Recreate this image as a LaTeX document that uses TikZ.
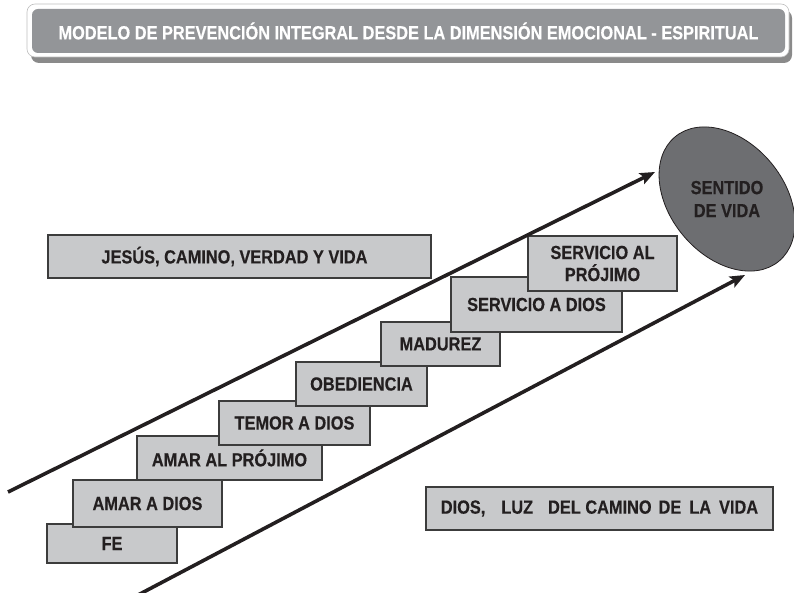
\documentclass[tikz,border=0pt]{standalone}
\usepackage{fontspec}
\setmainfont{Liberation Sans}[FakeStretch=0.86,FakeBold=0.4]
\usetikzlibrary{shapes.geometric,arrows.meta}
\definecolor{boxfill}{HTML}{C8C9CB}
\definecolor{boxline}{HTML}{3C3C3C}
\definecolor{titlefill}{HTML}{939598}
\definecolor{shadowgray}{HTML}{8A8A8A}
\definecolor{ellfill}{HTML}{6D6E71}
\definecolor{ink}{HTML}{231F20}
\tikzset{
  stepbox/.style={draw=boxline, fill=boxfill, line width=1.1pt, inner sep=0pt,
    font=\fontsize{19}{22}\selectfont\bfseries, text=ink, align=center},
  titlebox/.style={fill=titlefill, rounded corners=6pt, inner sep=0pt,
    minimum width=753pt, minimum height=44pt,
    font=\fontsize{19}{22}\selectfont\bfseries, text=white},
  arrowline/.style={line width=3.6pt, draw=ink, -{Stealth[length=15pt,width=12pt,inset=3pt]}},
}
\begin{document}
\begin{tikzpicture}[x=1pt,y=-1pt]
\useasboundingbox (0,0) rectangle (794,593);
% title with border and shadow
\fill[shadowgray, rounded corners=8pt] (31,10) rectangle (792,63);
\draw[fill=white, draw=black!25, line width=0.6pt, rounded corners=8pt] (27,4) rectangle (789,57);
\node[titlebox] (title) at (408.5,31) {MODELO DE PREVENCIÓN INTEGRAL DESDE LA DIMENSIÓN EMOCIONAL - ESPIRITUAL};
% side boxes
\node[stepbox, minimum width=383pt, minimum height=43pt] (jesus) at (239.5,256.5) {JESÚS, CAMINO, VERDAD Y VIDA\hspace{10pt}};
\node[stepbox, minimum width=347pt, minimum height=43pt] (luz) at (599.5,508.5)
  {DIOS,\hspace{16pt}LUZ\hspace{15pt}DEL CAMINO\hspace{7pt}DE\hspace{8pt}LA\hspace{8pt}VIDA};
% steps
\node[stepbox, minimum width=130pt, minimum height=39pt] (fe) at (112,543.5) {FE};
\node[stepbox, minimum width=149pt, minimum height=47pt] (ad) at (147.5,503.5) {AMAR A DIOS};
\node[stepbox, minimum width=185pt, minimum height=44pt] (ap) at (229.5,458) {AMAR AL PRÓJIMO};
\node[stepbox, minimum width=151pt, minimum height=44pt] (td) at (294.5,423) {TEMOR A DIOS};
\node[stepbox, minimum width=131pt, minimum height=44pt] (ob) at (361.5,384) {OBEDIENCIA};
\node[stepbox, minimum width=119pt, minimum height=44pt] (ma) at (440.5,344) {MADUREZ};
\node[stepbox, minimum width=171pt, minimum height=55pt] (sd) at (536.5,304.5) {SERVICIO A DIOS};
\node[stepbox, minimum width=149pt, minimum height=55pt] (sp) at (602.5,263.5) {SERVICIO AL\\PRÓJIMO};
% ellipse
\node[ellipse, draw=ink, line width=0.8pt, fill=ellfill, inner sep=0pt,
  minimum width=162pt, minimum height=114pt, rotate=-50] (sv) at (727,199) {};
\node[font=\fontsize{19}{23}\selectfont\bfseries, text=ink, align=center] (svt) at (sv.center) {SENTIDO\\DE VIDA};
% arrows
\coordinate (u1) at (8,492);
\coordinate (u2) at (655,172);
\coordinate (l1) at (138,595);
\coordinate (l2) at (745,275);
\draw[arrowline] (u1) -- (u2);
\draw[arrowline] (l1) -- (l2);
\end{tikzpicture}
\end{document}
